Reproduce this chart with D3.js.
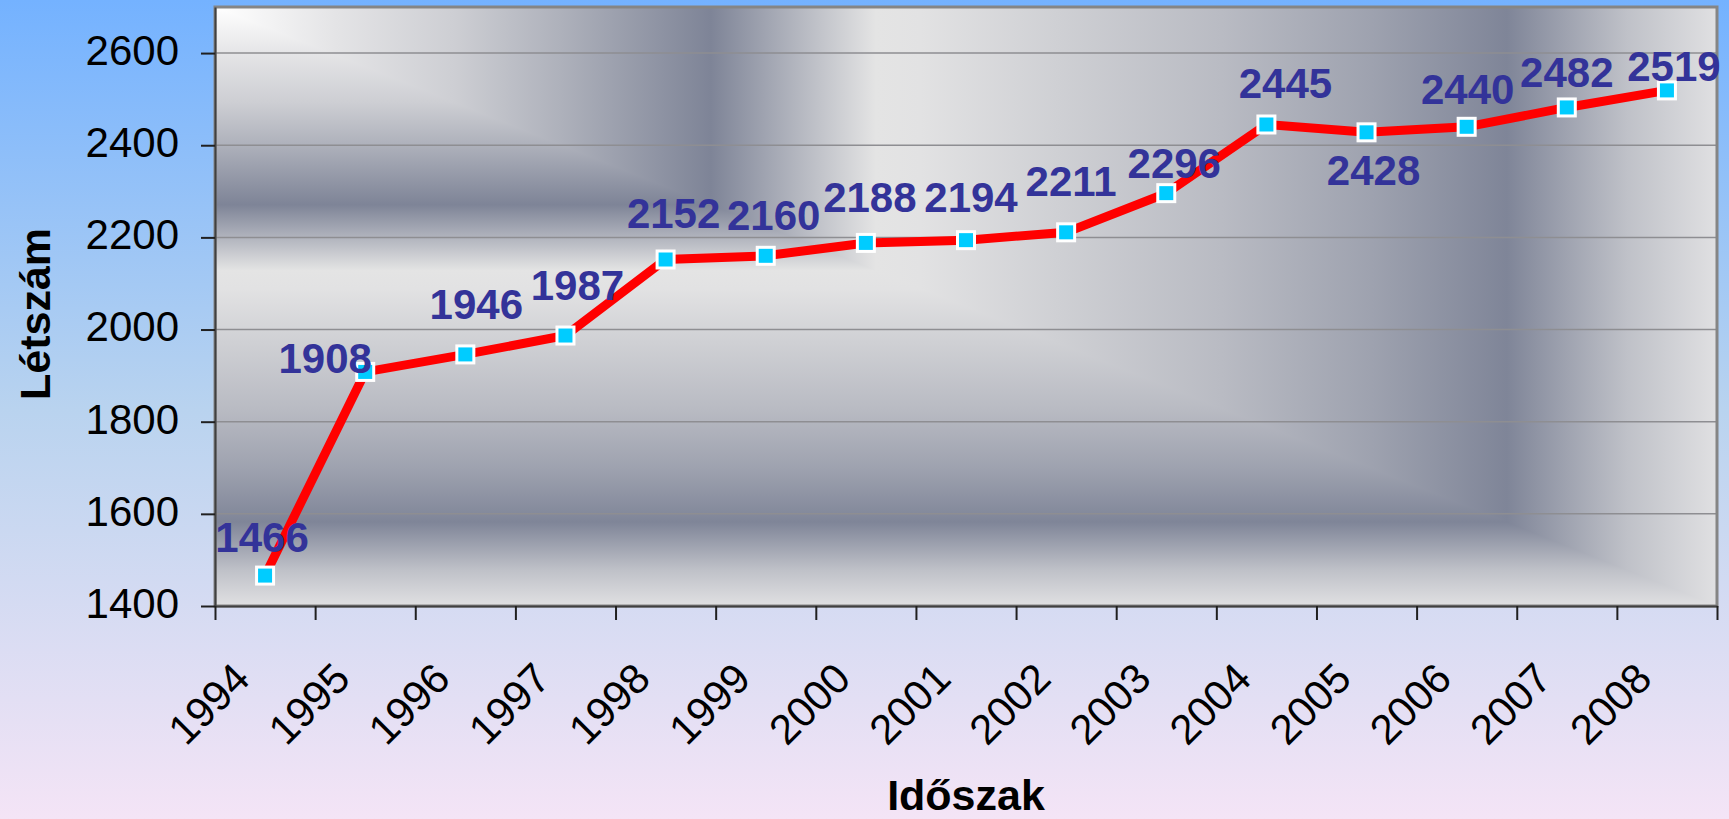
<!DOCTYPE html>
<html>
<head>
<meta charset="utf-8">
<script src="https://cdn.jsdelivr.net/npm/d3@7"></script>
<style>
  html, body { margin: 0; padding: 0; overflow: hidden; }
  svg { display: block; font-family: 'Liberation Sans', Arial, sans-serif; }
</style>
</head>
<body>
<svg id="chart" width="1729" height="819"></svg>
<script>
// data
const years = ['1994', '1995', '1996', '1997', '1998', '1999', '2000', '2001',
  '2002', '2003', '2004', '2005', '2006', '2007', '2008'];
const headcount = [1466, 1908, 1946, 1987, 2152, 2160, 2188, 2194,
  2211, 2296, 2445, 2428, 2440, 2482, 2519];
const yTicks = [1400, 1600, 1800, 2000, 2200, 2400, 2600];
const yTitle = 'Létszám';
const xTitle = 'Időszak';

// hand placed data labels (like in the workbook): [dx, dy] from the marker
const labelNudge = [[-3, -24], [-40, 1], [11, -35], [12, -36], [8, -32], [8, -26],
  [4, -31], [5, -28], [5, -36], [8, -15], [19, -26], [7, 53], [1, -23], [0, -20], [7, -9]];

// chrome shading of the plot area, goes outward from the top-left corner
const chromeStops = [
  [0, '#ffffff'], [0.08, '#e4e4e6'], [0.16, '#cdced3'], [0.23, '#aeb1bb'],
  [0.33, '#7e8497'], [0.44, '#e4e4e4'], [0.47, '#e2e2e3'], [0.56, '#cfd0d4'],
  [0.67, '#b9bbc3'], [0.77, '#9ea2af'], [0.86, '#7f8598'], [0.94, '#bfc1c8'],
  [1, '#e0e0e2']
];

const plot = { left: 215, right: 1717, top: 7, bottom: 606 };
const W = plot.right - plot.left;
const H = plot.bottom - plot.top;

const svg = d3.select('#chart');
const defs = svg.append('defs');

const bg = defs.append('linearGradient')
  .attr('id', 'bg')
  .attr('x1', 0).attr('y1', 0).attr('x2', 0).attr('y2', 1);
bg.append('stop').attr('offset', 0).attr('stop-color', '#74b2ff');
bg.append('stop').attr('offset', 0.5).attr('stop-color', '#b9d3ef');
bg.append('stop').attr('offset', 1).attr('stop-color', '#f4e4f6');

const chromeX = defs.append('linearGradient')
  .attr('id', 'chromeX')
  .attr('gradientUnits', 'userSpaceOnUse')
  .attr('x1', 0).attr('y1', 0).attr('x2', W).attr('y2', 0);
const chromeY = defs.append('linearGradient')
  .attr('id', 'chromeY')
  .attr('gradientUnits', 'userSpaceOnUse')
  .attr('x1', 0).attr('y1', 0).attr('x2', 0).attr('y2', H);
[chromeX, chromeY].forEach(g => {
  g.selectAll('stop')
    .data(chromeStops)
    .enter()
    .append('stop')
    .attr('offset', d => d[0])
    .attr('stop-color', d => d[1]);
});

svg.append('rect')
  .attr('width', 1729)
  .attr('height', 819)
  .attr('fill', 'url(#bg)');

// plot area: vertical shading everywhere, the upper right half shaded sideways on top
const plotG = svg.append('g')
  .attr('transform', `translate(${plot.left},${plot.top})`);
plotG.append('rect')
  .attr('width', W)
  .attr('height', H)
  .attr('fill', 'url(#chromeY)');
plotG.append('polygon')
  .attr('points', `0,0 ${W},0 ${W},${H}`)
  .attr('fill', 'url(#chromeX)');

const x = d3.scaleBand()
  .domain(years)
  .range([plot.left, plot.right]);
const xEdge = d3.scaleLinear()
  .domain([0, years.length])
  .range([plot.left, plot.right]);
const y = d3.scaleLinear()
  .domain([1400, 2700])
  .range([plot.bottom, plot.top]);

// gridlines
svg.append('g')
  .selectAll('line')
  .data(yTicks.slice(1))
  .enter()
  .append('line')
  .attr('x1', plot.left)
  .attr('x2', plot.right)
  .attr('y1', d => y(d))
  .attr('y2', d => y(d))
  .attr('stroke', '#8e8e92')
  .attr('stroke-width', 1.5);

svg.append('rect')
  .attr('x', plot.left)
  .attr('y', plot.top)
  .attr('width', W)
  .attr('height', H)
  .attr('fill', 'none')
  .attr('stroke', '#858585')
  .attr('stroke-width', 3);

// axes
const yAxis = svg.append('g')
  .attr('transform', `translate(${plot.left},0)`)
  .call(d3.axisLeft(y)
    .tickValues(yTicks)
    .tickFormat(d3.format('d'))
    .tickSize(14)
    .tickPadding(22)
    .tickSizeOuter(0));
yAxis.select('.domain').attr('stroke', '#404040').attr('stroke-width', 2);
yAxis.selectAll('.tick line').attr('stroke', '#202020').attr('stroke-width', 2);
yAxis.selectAll('.tick text')
  .attr('font-size', 42)
  .attr('font-family', "'Liberation Sans', Arial, sans-serif")
  .attr('fill', '#000')
  .attr('dy', '0.27em');

const xAxis = svg.append('g')
  .attr('transform', `translate(0,${plot.bottom})`)
  .call(d3.axisBottom(xEdge).ticks(years.length).tickSize(14).tickFormat('').tickSizeOuter(0));
xAxis.select('.domain').attr('stroke', '#404040').attr('stroke-width', 2);
xAxis.selectAll('.tick line').attr('stroke', '#202020').attr('stroke-width', 2);

svg.append('g')
  .selectAll('text')
  .data(years)
  .enter()
  .append('text')
  .attr('transform', d => `translate(${x(d) + x.bandwidth() / 2 - 13},681) rotate(-45)`)
  .attr('text-anchor', 'end')
  .attr('font-size', 42)
  .attr('fill', '#000')
  .text(d => d);

// titles
svg.append('text')
  .attr('transform', 'translate(50,314) rotate(-90)')
  .attr('text-anchor', 'middle')
  .attr('font-size', 43)
  .attr('font-weight', 'bold')
  .attr('fill', '#000')
  .text(yTitle);

svg.append('text')
  .attr('x', (plot.left + plot.right) / 2)
  .attr('y', 810)
  .attr('text-anchor', 'middle')
  .attr('font-size', 43)
  .attr('font-weight', 'bold')
  .attr('fill', '#000')
  .text(xTitle);

// series
const points = years.map((yr, i) => ({ year: yr, value: headcount[i], nudge: labelNudge[i] }));
const cx = d => x(d.year) + x.bandwidth() / 2;

const line = d3.line()
  .x(cx)
  .y(d => y(d.value));

svg.append('path')
  .attr('d', line(points))
  .attr('fill', 'none')
  .attr('stroke', '#ff0000')
  .attr('stroke-width', 9)
  .attr('stroke-linejoin', 'miter');

svg.append('g')
  .selectAll('rect')
  .data(points)
  .enter()
  .append('rect')
  .attr('x', d => cx(d) - 8.5)
  .attr('y', d => y(d.value) - 8.5)
  .attr('width', 17)
  .attr('height', 17)
  .attr('fill', '#00ccff')
  .attr('stroke', '#ffffff')
  .attr('stroke-width', 3);

svg.append('g')
  .selectAll('text')
  .data(points)
  .enter()
  .append('text')
  .attr('x', d => cx(d) + d.nudge[0])
  .attr('y', d => y(d.value) + d.nudge[1])
  .attr('text-anchor', 'middle')
  .attr('font-size', 42)
  .attr('font-weight', 'bold')
  .attr('fill', '#333399')
  .text(d => d.value);
</script>
</body>
</html>
